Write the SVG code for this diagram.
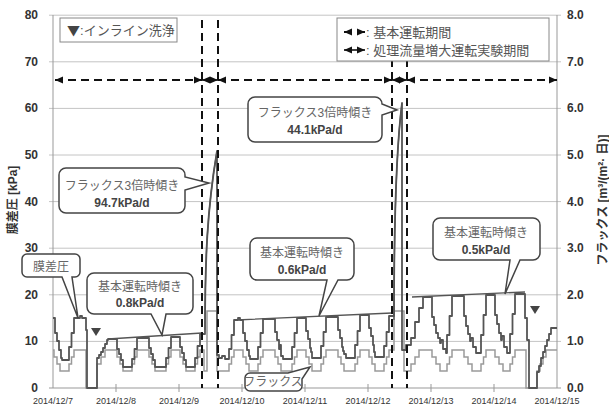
<svg xmlns="http://www.w3.org/2000/svg" width="609" height="410" viewBox="0 0 609 410">
<style>
.grid{stroke:#c4c4c4;stroke-width:1;fill:none}
.axis{stroke:#999;stroke-width:1;fill:none}
.tl{font-family:"Liberation Sans","Noto Sans CJK JP",sans-serif;font-size:12px;font-weight:bold;fill:#333}
.dl{font-family:"Liberation Sans","Noto Sans CJK JP",sans-serif;font-size:9px;fill:#333;text-anchor:middle}
.jp{font-family:"Liberation Sans","Noto Sans CJK JP",sans-serif;font-size:12px;fill:#666;text-anchor:middle}
.val{font-family:"Liberation Sans","Noto Sans CJK JP",sans-serif;font-size:12px;font-weight:bold;fill:#444;text-anchor:middle}
.call{fill:#fff;stroke:#444;stroke-width:1.5}
.vdash{stroke:#111;stroke-width:2;stroke-dasharray:8 5;fill:none}
.hdash{stroke:#111;stroke-width:2;stroke-dasharray:8 5;fill:none}
.hsolid{stroke:#111;stroke-width:1.6;fill:none}
.press{stroke:#555;stroke-width:1.8;fill:none;stroke-linejoin:round}
.flux{stroke:#9a9a9a;stroke-width:1.5;fill:none}
.trend{stroke:#555;stroke-width:1.3;fill:none}
.leg{font-family:"Liberation Sans","Noto Sans CJK JP",sans-serif;font-size:13px;fill:#555}
</style>
<defs>
<marker id="ah" viewBox="0 0 8 8" refX="8" refY="4" markerWidth="8" markerHeight="8" markerUnits="userSpaceOnUse" orient="auto-start-reverse">
<path d="M0,0.5 L8,4 L0,7.5 Z" fill="#111"/>
</marker>
</defs>
<rect width="609" height="410" fill="#fff"/>

<g id="axes">
<path class="grid" d="M49,15.2H561M49,61.8H561M49,108.4H561M49,155H561M49,201.6H561M49,248.2H561M49,294.8H561M49,341.4H561"/>
<path class="axis" d="M53,15V388M557,15V388M49,388H561"/>
<path class="axis" d="M116,384V392M179,384V392M242,384V392M305,384V392M368,384V392M431,384V392M494,384V392"/>
<g class="tl" text-anchor="end">
<text x="38" y="19">80</text><text x="38" y="66">70</text><text x="38" y="112">60</text><text x="38" y="159">50</text><text x="38" y="206">40</text><text x="38" y="252">30</text><text x="38" y="299">20</text><text x="38" y="345">10</text><text x="38" y="392">0</text>
</g>
<g class="tl">
<text x="567" y="19">8.0</text><text x="567" y="66">7.0</text><text x="567" y="112">6.0</text><text x="567" y="159">5.0</text><text x="567" y="206">4.0</text><text x="567" y="252">3.0</text><text x="567" y="299">2.0</text><text x="567" y="345">1.0</text><text x="567" y="392">0.0</text>
</g>
<g>
<text class="dl" x="53" y="404">2014/12/7</text><text class="dl" x="116" y="404">2014/12/8</text><text class="dl" x="179" y="404">2014/12/9</text><text class="dl" x="242" y="404">2014/12/10</text><text class="dl" x="305" y="404">2014/12/11</text><text class="dl" x="368" y="404">2014/12/12</text><text class="dl" x="431" y="404">2014/12/13</text><text class="dl" x="494" y="404">2014/12/14</text><text class="dl" x="557" y="404">2014/12/15</text>
</g>
<text class="tl" font-size="13" text-anchor="middle" transform="translate(17,200) rotate(-90)">膜差圧 [kPa]</text>
<text class="tl" font-size="12.5" text-anchor="middle" transform="translate(607,200) rotate(-90)">フラックス [m³/(m²· 日)]</text>
</g>

<g id="data">
<path class="flux" d="M53,350 H54 V357 H57 V364 H60 V371 H69 V364 H71.5 V357 H74 V350 H86 V388 H97 V364 H101 V357 H105 V350 H117 V357 H120 V364 H123 V371 H132 V364 H134.5 V357 H137 V350 H149 V357 H152 V364 H155 V371 H166 V364 H168.5 V357 H171 V350 H180 V357 H183 V364 H186 V371 H195 V364 H197.5 V357 H200 V350 H204 V371 H207 V311 H217 V371 H229 V364 H231.5 V357 H234 V350 H243 V357 H246 V364 H249 V371 H258 V364 H260.5 V357 H263 V350 H275 V357 H278 V364 H281 V371 H292 V364 H294.5 V357 H297 V350 H306 V357 H309 V364 H312 V371 H321 V364 H323.5 V357 H326 V350 H338 V357 H341 V364 H344 V371 H355 V364 H357.5 V357 H360 V350 H369 V357 H372 V364 H375 V371 H384 V364 H386.5 V357 H389 V350 H394 V311 H404 V371 H411 V364 H415 V357 H419 V350 H432 V357 H436 V364 H440 V371 H447 V364 H449.5 V357 H452 V350 H464 V357 H468 V364 H472 V371 H481 V364 H483.5 V357 H486 V350 H495 V357 H499 V364 H503 V371 H510 V364 H512.5 V357 H515 V350 H526 V388 H537 V371 H540 V364 H543 V357 H546 V350 H557"/>
<path class="press" d="M53,318 H55 V333 H57 V341 H59 V350 H61 V358 H62 V360 H69 V347 H71.5 V333 H74 V318 H80 V316 H82 V318 H86 V330 H87 V388 H97 V358 H99 V355 H101 V352 H103 V348 H105 V344 H107 V340 H108 V339 H117 V349 H119 V354 H121 V360 H123 V367 H132 V359 H134.5 V349 H137 V338 H149 V348 H151 V354 H153 V360 H155 V367 H166 V358 H168.5 V348 H171 V337 H180 V347 H182 V353 H184 V360 H186 V367 H195 V358 H197.5 V346 H200 V334 H205 C205,260 207,210 217,151 V355 H219 V358 H222 V356 H225 V359 H229 V349 H231.5 V335 H234 V320 H238 V318 H240 V320 H243 V333 H245 V341 H247 V350 H249 V356 H250 V359 H258 V347 H260.5 V333 H263 V319 H275 V332 H277 V340 H279 V349 H280 V345 H281 V356 H283 V359 H292 V347 H294.5 V333 H297 V318 H306 V331 H308 V339 H310 V348 H311 V352 H312 V358 H321 V346 H323.5 V332 H326 V317 H338 V330 H340 V338 H342 V347 H343 V351 H344 V354 H346 V358 H355 V345 H357.5 V331 H360 V315 H369 V328 H371 V336 H373 V345 H374 V352 H375 V357 H384 V346 H386.5 V332 H389 V316 H394 C394,220 396,150 402,103 V350 H406 V345 H411 V338 H415 V322 H419 V308 H423 V297 H432 V317 H434 V325 H436 V333 H438 V338 H440 V343 H441 V340 H443 V349 H446 V353 H447 V335 H449.5 V316 H452 V296 H464 V316 H466 V326 H468 V334 H470 V341 H471 V338 H473 V347 H476 V353 H481 V335 H483.5 V315 H486 V295 H495 V315 H497 V324 H499 V333 H501 V340 H502 V336 H504 V347 H507 V353 H510 V334 H512.5 V314 H515 V294 H525 V318 H527 V340 H529 V388 H537 V372 H539 V366 H541 V358 H543 V352 H545 V346 H547 V340 H549 V334 H551 V328 H557"/>
<path class="trend" d="M108,339 L202,333 M236,320 L392,313 M412,297 L525,292"/>
<path class="trend" d="M205,330 C205,260 207,210 217,151 M394,320 C394,220 396,150 402,103"/>
<path d="M91,328 H101 L96,336 Z M530,306 H540 L535,314 Z" fill="#444"/>
</g>

<g id="connectors">
<path class="vdash" d="M202,20V388M218,20V388M392,20V388M407,20V388"/>
<path class="hdash" d="M55,80H202" marker-start="url(#ah)" marker-end="url(#ah)"/>
<path class="hsolid" d="M202,80H218" marker-start="url(#ah)" marker-end="url(#ah)"/>
<path class="hdash" d="M218,80H392" marker-start="url(#ah)" marker-end="url(#ah)"/>
<path class="hsolid" d="M392,80H407" marker-start="url(#ah)" marker-end="url(#ah)"/>
<path class="hdash" d="M407,80H557" marker-start="url(#ah)" marker-end="url(#ah)"/>
</g>

<g id="legend-wash">
<rect x="60" y="18" width="117" height="24" fill="#fff" stroke="#888" stroke-width="1"/>
<text class="leg" x="67" y="35" font-size="12"><tspan fill="#444" font-family="'Noto Sans CJK JP',sans-serif">▼</tspan>:インライン洗浄</text>
</g>

<g id="legend-period">
<rect x="337" y="18" width="212" height="43" fill="#fff" stroke="#888" stroke-width="1"/>
<path class="hdash" d="M344,32H365" stroke-dasharray="4 3" stroke-width="1.6" marker-start="url(#ah)" marker-end="url(#ah)"/>
<path class="hsolid" d="M344,50H365" marker-start="url(#ah)" marker-end="url(#ah)"/>
<text class="leg" x="366" y="37">: 基本運転期間</text>
<text class="leg" x="366" y="55">: 処理流量増大運転実験期間</text>
</g>

<g id="callout-mem">
<path class="call" d="M27,254 H75 A5,5 0 0 1 80,259 V272 A5,5 0 0 1 75,277 H72 L78,318 L62,277 H27 A5,5 0 0 1 22,272 V259 A5,5 0 0 1 27,254 Z"/>
<text class="jp" x="51" y="271" font-size="13">膜差圧</text>
</g>

<g id="callout-08">
<path class="call" d="M94,273 H186 A7,7 0 0 1 193,280 V307 A7,7 0 0 1 186,314 H166 L162,335 L151,314 H94 A7,7 0 0 1 87,307 V280 A7,7 0 0 1 94,273 Z"/>
<text class="jp" x="140" y="291">基本運転時傾き</text>
<text class="val" x="140" y="307">0.8kPa/d</text>
</g>

<g id="callout-947">
<path class="call" d="M66,168 H178 A7,7 0 0 1 185,175 V177 L209,183 L185,190 V206 A7,7 0 0 1 178,213 H66 A7,7 0 0 1 59,206 V175 A7,7 0 0 1 66,168 Z"/>
<text class="jp" x="122" y="190">フラックス3倍時傾き</text>
<text class="val" x="122" y="207">94.7kPa/d</text>
</g>

<g id="callout-06">
<path class="call" d="M257,238 H347 A7,7 0 0 1 354,245 V273 A7,7 0 0 1 347,280 H338 L319,316 L327,280 H257 A7,7 0 0 1 250,273 V245 A7,7 0 0 1 257,238 Z"/>
<text class="jp" x="302" y="257">基本運転時傾き</text>
<text class="val" x="302" y="274">0.6kPa/d</text>
</g>

<g id="callout-441">
<path class="call" d="M255,97 H375 A7,7 0 0 1 382,104 L397,110 L382,115 V135 A7,7 0 0 1 375,142 H255 A7,7 0 0 1 248,135 V104 A7,7 0 0 1 255,97 Z"/>
<text class="jp" x="315" y="117">フラックス3倍時傾き</text>
<text class="val" x="315" y="134">44.1kPa/d</text>
</g>

<g id="callout-05">
<path class="call" d="M440,218 H533 A7,7 0 0 1 540,225 V253 A7,7 0 0 1 533,260 H520 L505,294 L510,260 H440 A7,7 0 0 1 433,253 V225 A7,7 0 0 1 440,218 Z"/>
<text class="jp" x="486" y="237">基本運転時傾き</text>
<text class="val" x="486" y="254">0.5kPa/d</text>
</g>

<g id="callout-flux">
<path class="call" d="M250,373 H288 L310,367 L302,379 V386 A5,5 0 0 1 297,391 H250 A5,5 0 0 1 245,386 V378 A5,5 0 0 1 250,373 Z"/>
<text class="jp" x="273" y="386" font-size="11">フラックス</text>
</g>
</svg>
